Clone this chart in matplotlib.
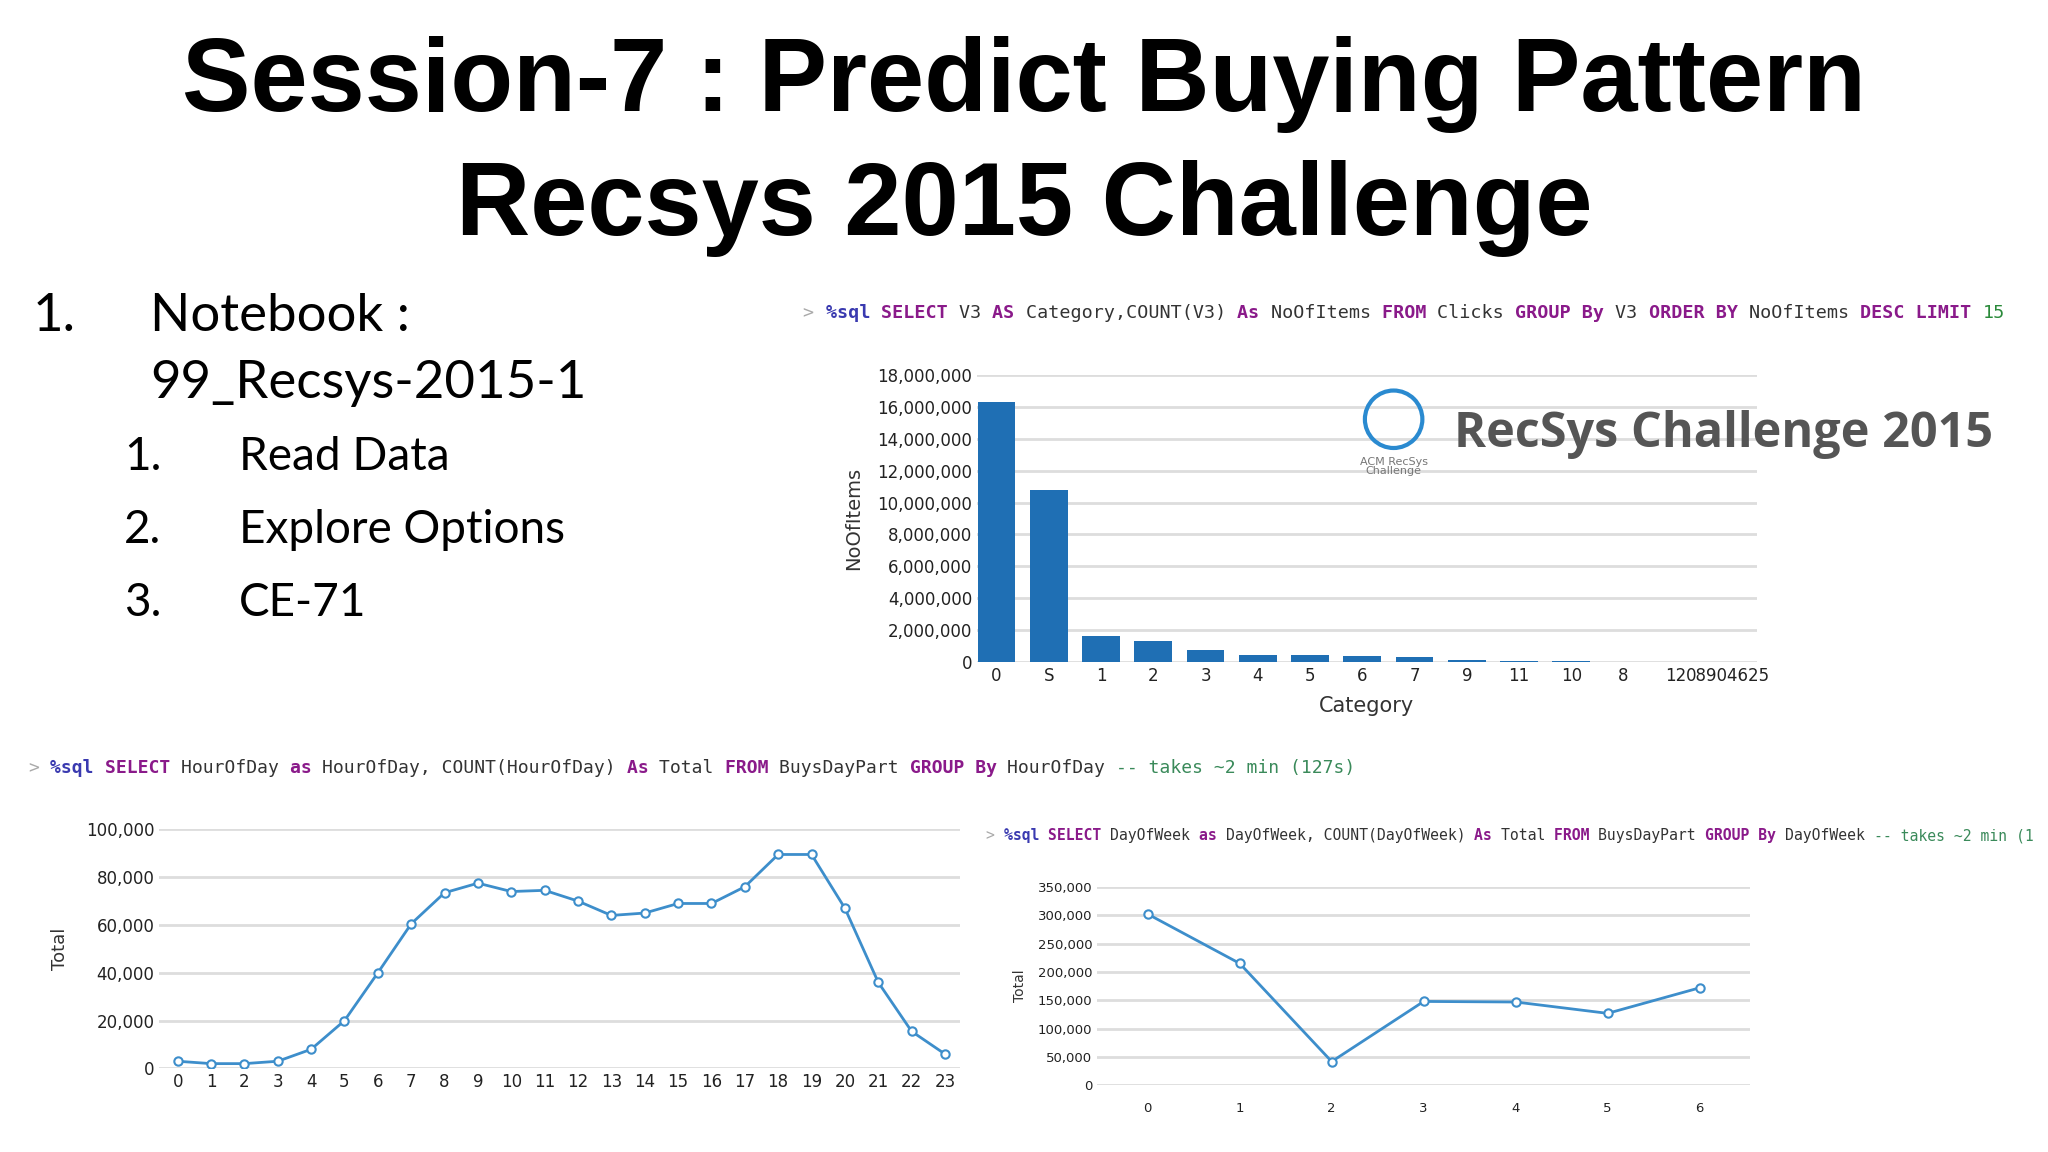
import matplotlib
matplotlib.use("Agg")
import matplotlib.pyplot as plt
from matplotlib.patches import Ellipse

categories = ["0", "S", "1", "2", "3", "4", "5", "6", "7", "9", "11", "10", "8", "12", "08904625"]
no_of_items = [16300000, 10800000, 1650000, 1300000, 750000, 450000, 420000, 400000, 350000,
               120000, 60000, 50000, 40000, 20000, 10000]
hours = list(range(24))
hour_totals = [3000, 2000, 2000, 3000, 8000, 20000, 40000, 60500, 73500, 77500, 74000, 74500,
               70000, 64000, 65000, 69000, 69000, 76000, 89500, 89500, 67000, 36000, 15500, 6000]
days = list(range(7))
day_totals = [302000, 215000, 42000, 148000, 147000, 127000, 172000]

W, H = 1568.0, 882.0
def fx(x): return x / W
def fy(y): return 1 - y / H

fig = plt.figure(figsize=(20.48, 11.52), dpi=100)
fig.patch.set_facecolor("white")

fig.text(0.5, fy(65), "Session-7 : Predict Buying Pattern", ha="center", va="center",
         fontsize=74, fontweight="bold", family="Liberation Sans")
fig.text(0.5, fy(160), "Recsys 2015 Challenge", ha="center", va="center",
         fontsize=74, fontweight="bold", family="Liberation Sans")

bf = dict(fontsize=38, family="Lato", va="center")
fig.text(fx(25), fy(242), "1.", **bf)
fig.text(fx(115), fy(242), "Notebook :", **bf)
fig.text(fx(115), fy(294), "99_Recsys-2015-1", **bf)
for i, t in enumerate(["Read Data", "Explore Options", "CE-71"]):
    y = 350 + i * 56
    fig.text(fx(95), fy(y), f"{i+1}.", fontsize=33, family="Lato", va="center")
    fig.text(fx(183), fy(y), t, fontsize=33, family="Lato", va="center")

KW, ID, NUM, CM = "#8a1a8a", "#333333", "#2a8a3a", "#3a8a5a"
def sql_line(x, y, parts, size):
    r = fig.canvas.get_renderer()
    xx = fx(x)
    for txt, col, bold in parts:
        t = fig.text(xx, fy(y), txt, color=col, fontsize=size, family="DejaVu Sans Mono",
                     fontweight="bold" if bold else "normal", va="center")
        bb = t.get_window_extent(r)
        xx += bb.width / fig.bbox.width

sql_line(615, 240, [("> ", "#aaaaaa", False), ("%sql ", "#3a3ab0", True), ("SELECT ", KW, True),
                    ("V3 ", ID, False), ("AS ", KW, True), ("Category,COUNT(V3) ", ID, False),
                    ("As ", KW, True), ("NoOfItems ", ID, False), ("FROM ", KW, True),
                    ("Clicks ", ID, False), ("GROUP By ", KW, True), ("V3 ", ID, False),
                    ("ORDER BY ", KW, True), ("NoOfItems ", ID, False), ("DESC LIMIT ", KW, True),
                    ("15", NUM, False)], 13.2)
sql_line(22, 588, [("> ", "#aaaaaa", False), ("%sql ", "#3a3ab0", True), ("SELECT ", KW, True),
                   ("HourOfDay ", ID, False), ("as ", KW, True), ("HourOfDay, COUNT(HourOfDay) ", ID, False),
                   ("As ", KW, True), ("Total ", ID, False), ("FROM ", KW, True),
                   ("BuysDayPart ", ID, False), ("GROUP By ", KW, True), ("HourOfDay ", ID, False),
                   ("-- takes ~2 min (127s)", CM, False)], 13.0)
sql_line(755, 640, [("> ", "#aaaaaa", False), ("%sql ", "#3a3ab0", True), ("SELECT ", KW, True),
                    ("DayOfWeek ", ID, False), ("as ", KW, True), ("DayOfWeek, COUNT(DayOfWeek) ", ID, False),
                    ("As ", KW, True), ("Total ", ID, False), ("FROM ", KW, True),
                    ("BuysDayPart ", ID, False), ("GROUP By ", KW, True), ("DayOfWeek ", ID, False),
                    ("-- takes ~2 min (1", CM, False)], 10.6)

def style(ax, tsize):
    for s in ax.spines.values():
        s.set_visible(False)
    ax.grid(axis="y", color="#dddddd", lw=2)
    ax.set_axisbelow(True)
    ax.tick_params(length=0, labelsize=tsize, colors="#222222")

# Top bar chart
ax1 = fig.add_axes([fx(748), fy(507), fx(1345) - fx(748), fy(287) - fy(507)])
ax1.bar(range(len(categories)), no_of_items, width=0.72, color="#1f6fb4")
ax1.set_xlim(-0.375, 14.55)
ax1.set_ylim(0, 18000000)
ax1.set_yticks(range(0, 18000001, 2000000))
ax1.set_yticklabels([f"{v:,}" for v in range(0, 18000001, 2000000)])
ax1.set_xticks(range(len(categories)))
ax1.set_xticklabels(categories)
style(ax1, 12)
ax1.set_xlabel("Category", fontsize=15, color="#333333", labelpad=8)
ax1.set_ylabel("NoOfItems", fontsize=14, color="#333333", labelpad=10)

# Logo
fig.patches.append(Ellipse((fx(1067), fy(321)), 44 / W, 44 / H, transform=fig.transFigure,
                           fill=False, ec="#2a8ad0", lw=3))
fig.text(fx(1067), fy(357), "ACM RecSys\nChallenge", ha="center", va="center",
         fontsize=8, color="#777777", linespacing=0.9)
fig.text(fx(1113), fy(333), "RecSys Challenge 2015", fontsize=35, fontweight="bold",
         color="#555555", family="Open Sans", va="center")

# Bottom-left
ax2 = fig.add_axes([fx(122), fy(818), fx(735) - fx(122), fy(635) - fy(818)])
ax2.plot(hours, hour_totals, color="#3d8ecb", lw=2, marker="o", ms=6, mfc="white", mec="#3d8ecb", mew=1.5)
ax2.set_xlim(-0.55, 23.45)
ax2.set_ylim(0, 100000)
ax2.set_yticks(range(0, 100001, 20000))
ax2.set_yticklabels([f"{v:,}" for v in range(0, 100001, 20000)])
ax2.set_xticks(hours)
style(ax2, 12)
ax2.set_ylabel("Total", fontsize=13, color="#333333", labelpad=12)

# Bottom-right
ax3 = fig.add_axes([fx(840), fy(831), fx(1340) - fx(840), fy(679) - fy(831)])
ax3.plot(days, day_totals, color="#3d8ecb", lw=2, marker="o", ms=6, mfc="white", mec="#3d8ecb", mew=1.5)
ax3.set_xlim(-0.55, 6.55)
ax3.set_ylim(0, 350000)
ax3.set_yticks(range(0, 350001, 50000))
ax3.set_yticklabels([f"{v:,}" for v in range(0, 350001, 50000)])
ax3.set_xticks(days)
style(ax3, 9.5)
ax3.tick_params(axis="x", pad=12)
ax3.set_ylabel("Total", fontsize=10, color="#333333", labelpad=8)

fig.savefig("out.png", dpi=100, facecolor="white")
